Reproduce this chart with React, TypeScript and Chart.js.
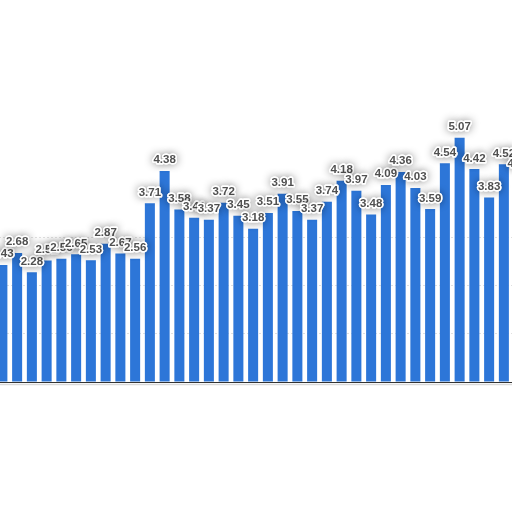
import { useEffect, useRef } from 'react';
import { Chart, registerables } from 'chart.js';

Chart.register(...registerables);

const labels = [
  'P1', 'P2', 'P3', 'P4', 'P5', 'P6', 'P7', 'P8', 'P9', 'P10',
  'P11', 'P12', 'P13', 'P14', 'P15', 'P16', 'P17', 'P18', 'P19', 'P20',
  'P21', 'P22', 'P23', 'P24', 'P25', 'P26', 'P27', 'P28', 'P29', 'P30',
  'P31', 'P32', 'P33', 'P34', 'P35', 'P36',
];
const values = [
  2.43, 2.68, 2.28, 2.52, 2.56, 2.65, 2.53, 2.87, 2.67, 2.56,
  3.71, 4.38, 3.58, 3.41, 3.37, 3.72, 3.45, 3.18, 3.51, 3.91,
  3.55, 3.37, 3.74, 4.18, 3.97, 3.48, 4.09, 4.36, 4.03, 3.59,
  4.54, 5.07, 4.42, 3.83, 4.52, 4.31,
];
const yTicks = [0, 1, 2, 3, 4, 5, 6];
const gridShownUpTo = 3;

const barColor = '#2d76d8';

const valueLabels = {
  id: 'valueLabels',
  afterDatasetsDraw(chart: Chart) {
    const ctx = chart.ctx;
    const meta = chart.getDatasetMeta(0);
    ctx.save();
    ctx.font = '600 11.5px "Liberation Sans", Arial, sans-serif';
    ctx.textAlign = 'center';
    ctx.textBaseline = 'bottom';
    meta.data.forEach((bar: any, i: number) => {
      const txt = values[i].toFixed(2);
      const x = bar.x;
      const y = bar.y - 5;
      ctx.shadowColor = 'rgba(0,0,0,0.45)';
      ctx.shadowBlur = 9;
      ctx.strokeStyle = '#ffffff';
      ctx.lineWidth = 3;
      ctx.lineJoin = 'round';
      ctx.strokeText(txt, x, y);
      ctx.shadowBlur = 0;
      ctx.shadowColor = 'transparent';
      ctx.strokeText(txt, x, y);
      ctx.fillStyle = '#505050';
      ctx.fillText(txt, x, y);
    });
    ctx.restore();
  },
};

const baseShadow = {
  id: 'baseShadow',
  afterDraw(chart: Chart) {
    const ctx = chart.ctx;
    const { left, right, bottom } = chart.chartArea;
    ctx.save();
    ctx.strokeStyle = 'rgba(0,0,0,0.15)';
    ctx.lineWidth = 1.5;
    ctx.beginPath();
    ctx.moveTo(left, bottom + 2.5);
    ctx.lineTo(right, bottom + 2.5);
    ctx.stroke();
    ctx.restore();
  },
};

const App = () => {
  const chartRef = useRef<HTMLCanvasElement>(null);
  const chartInstance = useRef<Chart<'bar', number[], string>>();

  useEffect(() => {
    if (chartInstance.current) {
      chartInstance.current.destroy();
    }
    const myChartRef = chartRef.current?.getContext('2d');
    if (!myChartRef) return;

    chartInstance.current = new Chart(myChartRef, {
      type: 'bar',
      data: {
        labels,
        datasets: [
          {
            data: values,
            backgroundColor: barColor,
            barPercentage: 0.85,
            categoryPercentage: 0.8,
          },
        ],
      },
      options: {
        responsive: false,
        animation: false,
        layout: { padding: { top: 0, left: 0, right: 0, bottom: 4 } },
        plugins: {
          legend: { display: false },
          tooltip: { enabled: false },
        },
        scales: {
          x: {
            ticks: { display: false },
            grid: { display: false, drawTicks: false },
            border: { display: true, color: '#333333', width: 1 },
          },
          y: {
            min: yTicks[0],
            max: yTicks[yTicks.length - 1],
            afterBuildTicks: (axis: any) => {
              axis.ticks = yTicks.map((v) => ({ value: v }));
            },
            ticks: { display: false },
            grid: {
              drawTicks: false,
              color: (c: any) =>
                c.tick && c.tick.value > 0 && c.tick.value <= gridShownUpTo
                  ? 'rgba(0,0,0,0.12)'
                  : 'rgba(0,0,0,0)',
              lineWidth: 1,
            },
            border: { display: false, dash: [2, 2] },
          },
        },
      },
      plugins: [valueLabels, baseShadow],
    });

    return () => {
      if (chartInstance.current) {
        chartInstance.current.destroy();
      }
    };
  }, []);

  return (
    <div
      style={{
        position: 'fixed',
        left: 0,
        top: 0,
        width: 512,
        height: 512,
        overflow: 'hidden',
        background: '#ffffff',
      }}
    >
      <canvas
        ref={chartRef}
        width={531}
        height={293}
        style={{ position: 'absolute', left: -5.4, top: 93, width: 531, height: 293 }}
      />
    </div>
  );
};

export default App;
